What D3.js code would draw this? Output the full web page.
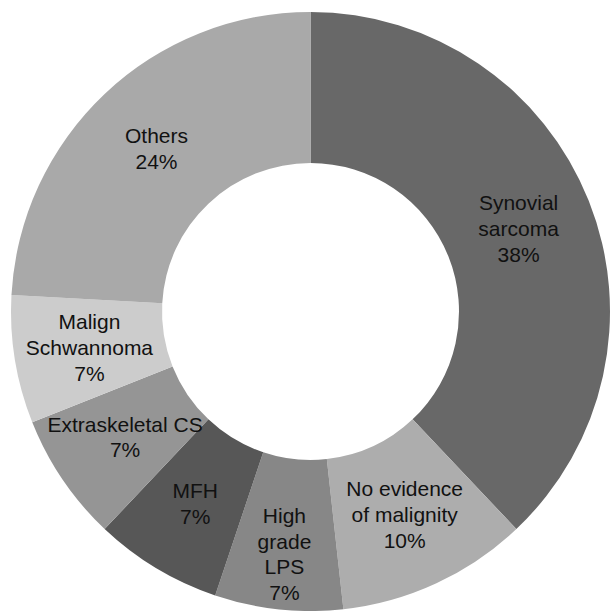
<!DOCTYPE html>
<html>
<head>
<meta charset="utf-8">
<script src="https://cdn.jsdelivr.net/npm/d3@7"></script>
<style>
  html, body { margin: 0; padding: 0; background: #ffffff; }
  svg { display: block; }
</style>
</head>
<body>
<svg id="chart" width="611" height="611"></svg>
<script>
// Data (share of cases, % — read from the donut)
const categories = [
  ["Synovial", "sarcoma"],
  ["No evidence", "of malignity"],
  ["High", "grade", "LPS"],
  ["MFH"],
  ["Extraskeletal CS"],
  ["Malign", "Schwannoma"],
  ["Others"]
];
const values = [37.9, 10.3, 6.9, 6.9, 6.9, 6.9, 24.1];
const colors = ["#686868", "#adadad", "#878787", "#575757", "#959595", "#cccccc", "#a9a9a9"];

const width = 611, height = 611;
const cx = 310.5, cy = 311.5;
const outerR = 299.5, innerR = 148.5;
const fontSize = 21, lineH = 25.6;

const svg = d3.select("#chart");
const g = svg.append("g").attr("transform", `translate(${cx},${cy})`);

const data = categories.map((c, i) => ({ name: c, value: values[i], color: colors[i] }));

const pie = d3.pie().sort(null).value(d => d.value).startAngle(0).endAngle(2 * Math.PI);
const arcs = pie(data);

const arc = d3.arc().innerRadius(innerR).outerRadius(outerR);

g.selectAll("path.slice")
  .data(arcs)
  .enter().append("path")
  .attr("class", "slice")
  .attr("d", arc)
  .attr("fill", d => d.data.color)
  .attr("stroke", "none");

const fmt = v => Math.round(v) + "%";

g.selectAll("text.lbl")
  .data(arcs)
  .enter().append("text")
  .attr("class", "lbl")
  .attr("font-family", "'Liberation Sans', Arial, Helvetica, sans-serif")
  .attr("font-size", fontSize)
  .attr("fill", "#111")
  .attr("text-anchor", "middle")
  .each(function(d) {
    const lines = d.data.name.concat([fmt(d.data.value)]);
    // long labels in narrow slices get pushed outward
    const rMid = (innerR + outerR) / 2 + (lines.length > 3 ? 20 : 0);
    const a = (d.startAngle + d.endAngle) / 2;
    const x = rMid * Math.sin(a);
    const y = -rMid * Math.cos(a);
    const t = d3.select(this);
    const y0 = y - (lines.length - 1) * lineH / 2;
    lines.forEach((ln, i) => {
      t.append("tspan")
        .attr("x", x)
        .attr("y", y0 + i * lineH)
        .attr("dy", "0.35em")
        .text(ln);
    });
  });
</script>
</body>
</html>
